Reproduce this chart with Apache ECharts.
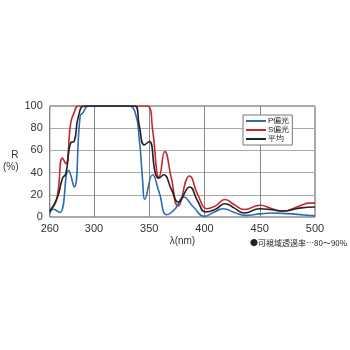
<!DOCTYPE html>
<html>
<head>
<meta charset="utf-8">
<script src="https://cdn.jsdelivr.net/npm/echarts@6/dist/echarts.min.js"></script>
<style>
  html, body { margin: 0; padding: 0; background: #fff; }
  #chart { width: 350px; height: 350px; }
</style>
</head>
<body>
<div id="chart"></div>
<script>
// 波長 (nm) と反射率 (%)
var pWl  = [260, 263, 269, 277, 282, 287.5, 290, 295, 331, 337, 341, 344, 346, 353, 359, 366, 374, 381, 390, 400, 408, 417, 427, 437, 450, 461, 475, 490, 500];
var pVal = [3, 7, 4, 42, 27, 91, 94, 100, 100, 95, 70, 33, 16, 38, 22, 2, 8, 18, 9, 0.6, 4, 7.5, 4, 1.5, 2.8, 3.6, 3, 1.8, 1];

var sWl  = [260, 266, 271.5, 274.5, 279, 282, 286, 348, 353, 357, 358.6, 364, 370, 376, 386.5, 394, 402.5, 410, 418.5, 427, 436, 450.5, 461, 471, 486, 495, 500];
var sVal = [6, 15, 53, 48, 85, 94, 100, 100, 79, 39, 36, 59, 35, 10, 37, 20, 7.5, 10, 15.7, 11, 6.7, 10.6, 7.5, 5.4, 10, 12.5, 12.5];

var aWl  = [260, 267, 271.5, 274.5, 279, 282, 286, 292, 337, 341, 345.5, 350, 355.6, 358.6, 363, 370, 376.3, 386.5, 394, 401, 410, 418.5, 427, 436, 450, 461, 471, 486, 500];
var aVal = [5, 18, 35, 39, 67, 68, 91, 100, 100, 82, 65, 68, 39, 35, 38, 25, 13.5, 27, 14, 4.5, 7, 12, 8, 3.6, 7.5, 6.5, 5.4, 8, 9];

var xLabels = [260, 300, 350, 400, 450, 500];
var xGrid = [300, 350, 400, 450];
var names = ['P偏光', 'S偏光', '平均'];
var colors = ['#2d6bb3', '#c8262e', '#222222'];

function pairs(xs, ys) {
    var out = [];
    for (var i = 0; i < xs.length; i++) {
        out.push([xs[i], ys[i]]);
    }
    return out;
}

var myChart = echarts.init(document.getElementById('chart'));

var lineBase = {
    type: 'line',
    smooth: 0.5,
    showSymbol: false,
    symbol: 'none',
    lineStyle: { width: 1.6 }
};

var option = {
    animation: false,
    textStyle: { fontFamily: 'Liberation Sans, Arial, sans-serif' },
    grid: {
        show: true,
        left: 40,
        right: 35,
        top: 106,
        bottom: 133,
        borderColor: '#555',
        borderWidth: 1,
        backgroundColor: '#fff'
    },
    legend: {
        orient: 'vertical',
        left: 243,
        top: 115,
        data: names,
        itemWidth: 20,
        itemHeight: 2,
        itemGap: 1,
        padding: [2, 3, 2, 3],
        backgroundColor: '#fff',
        borderColor: '#777',
        borderWidth: 1,
        borderRadius: 0,
        icon: 'rect',
        textStyle: { fontSize: 8, color: '#222', padding: [0, 0, 0, -3] }
    },
    xAxis: {
        type: 'value',
        min: 260,
        max: 500,
        interval: 10,
        name: 'λ(nm)',
        nameLocation: 'middle',
        nameGap: 19,
        nameTextStyle: { fontSize: 10, color: '#333' },
        axisLine: { show: false },
        axisTick: { show: false },
        splitLine: { show: false },
        axisLabel: {
            customValues: xLabels,
            fontSize: 11,
            color: '#333',
            margin: 6
        }
    },
    yAxis: {
        type: 'value',
        min: 0,
        max: 100,
        interval: 20,
        name: 'R\n(%)',
        nameLocation: 'middle',
        nameRotate: 0,
        nameGap: 27,
        nameTextStyle: { fontSize: 10, color: '#333', lineHeight: 12 },
        axisLine: { show: false },
        axisTick: { show: false },
        axisLabel: { fontSize: 11, color: '#333', margin: 7 },
        splitLine: { lineStyle: { color: '#aaa', width: 1 } }
    },
    graphic: [{
        type: 'text',
        left: 250,
        top: 239,
        style: {
            text: '●可視域透過率…80～90%',
            font: '8px "Noto Sans CJK JP", sans-serif',
            fill: '#222'
        }
    }],
    series: [
        Object.assign({}, lineBase, {
            name: names[0],
            color: colors[0],
            data: pairs(pWl, pVal),
            z: 3,
            markLine: {
                silent: true,
                symbol: 'none',
                label: { show: false },
                lineStyle: { color: '#888', type: 'solid', width: 1 },
                data: xGrid.map(function (v) { return { xAxis: v }; }),
                z: 1
            }
        }),
        Object.assign({}, lineBase, { name: names[1], color: colors[1], data: pairs(sWl, sVal), z: 2 }),
        Object.assign({}, lineBase, { name: names[2], color: colors[2], data: pairs(aWl, aVal), z: 4 })
    ]
};

myChart.setOption(option);
</script>
</body>
</html>
